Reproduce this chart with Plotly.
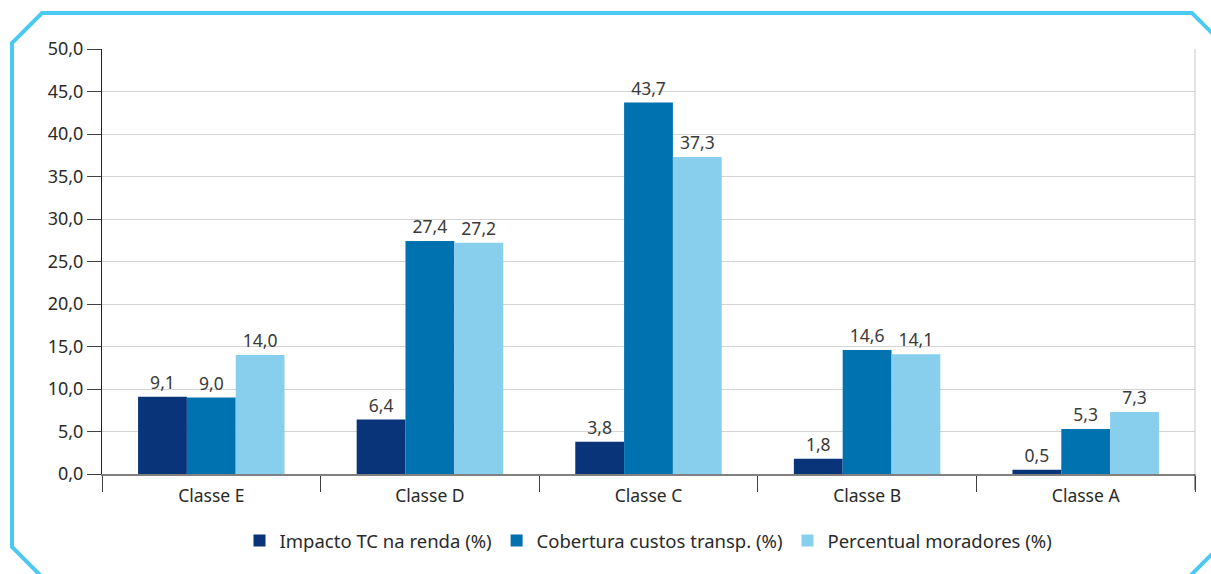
import plotly.graph_objects as go

categories = ["Classe E", "Classe D", "Classe C", "Classe B", "Classe A"]
impacto = [9.1, 6.4, 3.8, 1.8, 0.5]
cobertura = [9.0, 27.4, 43.7, 14.6, 5.3]
percentual = [14.0, 27.2, 37.3, 14.1, 7.3]
series_names = ["Impacto TC na renda (%)", "Cobertura custos transp. (%)", "Percentual moradores (%)"]
colors = ["#0a347a", "#0072b0", "#88cfee"]

W, H = 1211, 574
L, R, T, B = 102, 1195, 49, 474

def px(x):
    return (x - L) / (R - L)

def py(y):
    return (B - y) / (B - T)

fig = go.Figure()
for name, vals, c in zip(series_names, [impacto, cobertura, percentual], colors):
    fig.add_trace(go.Bar(
        x=categories, y=vals, name=name, marker_color=c, marker_line_width=0,
        texttemplate="%{y:.1f}", textposition="outside",
        textfont=dict(size=17.5, color="#3a3a3a"), cliponaxis=False,
    ))

frame_pts = [(42, 13), (1192, 13), (1222, 43), (1222, 544), (1176, 590),
             (55, 590), (12, 547), (12, 43)]
path = "M " + " L ".join(f"{px(x):.5f},{py(y):.5f}" for x, y in frame_pts) + " Z"

fig.update_layout(
    width=W, height=H,
    margin=dict(l=L, r=W - R, t=T, b=H - B),
    paper_bgcolor="white", plot_bgcolor="white",
    separators=",.",
    barmode="group", bargap=0.33, bargroupgap=0,
    font=dict(family="Noto Sans", size=17.5, color="#3a3a3a"),
    showlegend=True,
    legend=dict(orientation="h", x=0.5, xanchor="center", y=py(541), yanchor="middle",
                font=dict(size=18.5, color="#2a2a2a"), itemwidth=30, traceorder="normal"),
    xaxis=dict(showgrid=False, showline=True, linecolor="#808080", linewidth=2,
               ticks="outside", tickson="boundaries", ticklen=16, tickcolor="#404040",
               ticklabelstandoff=5,
               tickfont=dict(size=17.5, color="#2a2a2a")),
    yaxis=dict(range=[0, 50], dtick=5, tickformat=".1f", showgrid=True, gridcolor="#d4d4d4",
               gridwidth=1, showline=True, linecolor="#222222", linewidth=1,
               ticks="outside", ticklen=14, tickcolor="#404040", zeroline=False,
               tickfont=dict(size=18, color="#2a2a2a")),
    shapes=[
        dict(type="line", xref="paper", yref="paper", x0=1, x1=1, y0=0, y1=1,
             line=dict(color="#c8c8c8", width=1)),
        dict(type="line", xref="paper", yref="paper", x0=1, x1=1, y0=0, y1=py(490),
             line=dict(color="#404040", width=1)),
        dict(type="path", xref="paper", yref="paper", path=path,
             line=dict(color="#4cc9f3", width=4), fillcolor="rgba(0,0,0,0)", layer="above"),
    ],
)

fig.write_html("out.html", config={"displayModeBar": False},
               post_script="document.body.style.margin='0';document.body.style.overflow='hidden';")
